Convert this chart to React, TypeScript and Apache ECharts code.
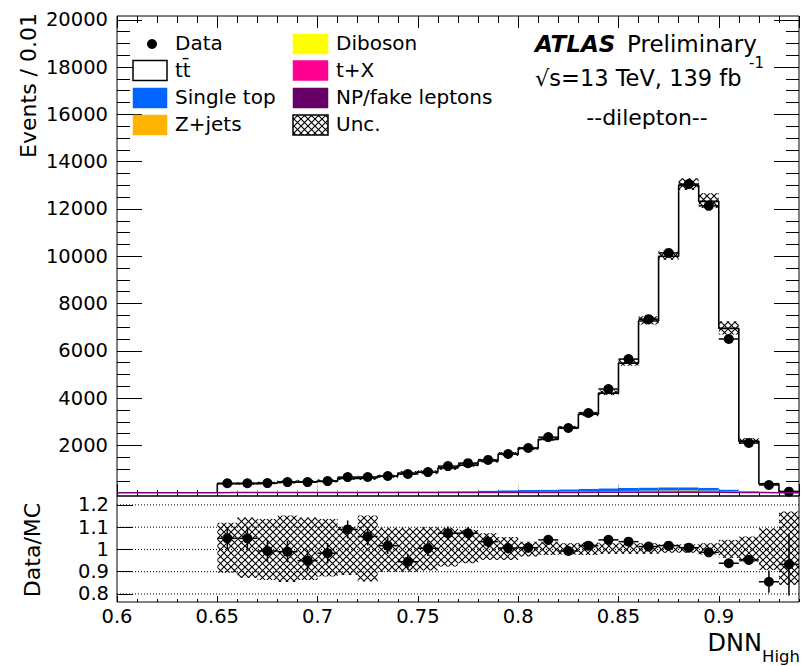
import React, { useEffect, useRef } from 'react';
import * as echarts from 'echarts';

// ---------------- data ----------------
const binCenters = [0.655, 0.665, 0.675, 0.685, 0.695, 0.705, 0.715, 0.725, 0.735, 0.745, 0.755, 0.765, 0.775, 0.785, 0.795, 0.805, 0.815, 0.825, 0.835, 0.845, 0.855, 0.865, 0.875, 0.885, 0.895, 0.905, 0.915, 0.925, 0.935];
const binWidth = 0.01;

const dataCounts = [400, 400, 405, 450, 450, 490, 660, 665, 705, 790, 870, 1125, 1250, 1385, 1635, 1890, 2350, 2735, 3370, 4385, 5650, 7340, 10140, 13050, 12130, 6500, 2100, 325, 45];
const dataErr = [20, 20, 20, 21, 21, 22, 26, 26, 27, 28, 30, 34, 35, 37, 40, 43, 48, 52, 58, 66, 75, 86, 100, 114, 110, 80, 46, 18, 7];

const ttbar = [356, 358, 383, 429, 446, 467, 571, 593, 652, 789, 819, 992, 1105, 1250, 1523, 1762, 2127, 2609, 3151, 4027, 5281, 7042, 9773, 12772, 12112, 6818, 2119, 367, 46];
const singleTop = [12, 12, 13, 14, 15, 16, 19, 20, 22, 26, 27, 32, 35, 60, 70, 78, 88, 95, 110, 120, 125, 130, 130, 128, 120, 80, 40, 8, 2];
const zJets = [3, 3, 3, 3, 3, 4, 4, 4, 5, 5, 5, 6, 6, 7, 8, 9, 10, 12, 14, 16, 20, 24, 25, 24, 20, 12, 5, 1, 0];
const diboson = [2, 2, 2, 2, 2, 2, 3, 3, 3, 3, 3, 4, 4, 4, 5, 5, 6, 7, 8, 9, 10, 12, 12, 12, 10, 6, 3, 1, 0];
const tX = [3, 3, 3, 3, 4, 4, 4, 5, 5, 6, 6, 7, 8, 9, 10, 11, 13, 15, 18, 22, 26, 32, 38, 42, 38, 22, 8, 2, 0];
const npFake = [4, 4, 4, 4, 4, 5, 5, 5, 6, 6, 6, 7, 7, 8, 9, 10, 11, 12, 14, 16, 18, 20, 22, 22, 20, 12, 5, 1, 0];

const ratio = [1.05, 1.05, 0.993, 0.99, 0.95, 0.983, 1.09, 1.058, 1.017, 0.945, 1.005, 1.073, 1.073, 1.035, 1.006, 1.008, 1.043, 0.993, 1.017, 1.043, 1.035, 1.013, 1.017, 1.008, 0.987, 0.938, 0.953, 0.855, 0.933];
const ratioErr = [0.05, 0.05, 0.05, 0.048, 0.048, 0.046, 0.04, 0.04, 0.038, 0.036, 0.034, 0.03, 0.028, 0.027, 0.025, 0.023, 0.021, 0.019, 0.017, 0.015, 0.013, 0.012, 0.01, 0.009, 0.009, 0.012, 0.021, 0.05, 0.14];
const uncHi = [1.12, 1.143, 1.137, 1.152, 1.143, 1.137, 1.102, 1.152, 1.097, 1.097, 1.1, 1.097, 1.088, 1.073, 1.056, 1.035, 1.035, 1.028, 1.032, 1.028, 1.028, 1.028, 1.023, 1.023, 1.028, 1.043, 1.058, 1.095, 1.17];
const uncLo = [0.895, 0.872, 0.863, 0.854, 0.863, 0.878, 0.885, 0.856, 0.9, 0.9, 0.905, 0.923, 0.938, 0.953, 0.953, 0.968, 0.975, 0.977, 0.975, 0.98, 0.98, 0.98, 0.985, 0.985, 0.977, 0.962, 0.945, 0.908, 0.84];

const xMin = 0.6;
const xMax = 0.94;
const yMin = -140;
const yMax = 20160;
const yMajorTicks = [0, 2000, 4000, 6000, 8000, 10000, 12000, 14000, 16000, 18000, 20000];
const yLabels = [2000, 4000, 6000, 8000, 10000, 12000, 14000, 16000, 18000, 20000];
const yMinorTicks = Array.from({ length: 41 }, (_, i) => i * 500);
const ratioMin = 0.764;
const ratioMax = 1.24;
const ratioTicks = [0.8, 0.9, 1, 1.1, 1.2];

const legendCol1 = ['Data', 'tt\u0304', 'Single top', 'Z+jets'];
const legendCol2 = ['Diboson', 't+X', 'NP/fake leptons', 'Unc.'];

const FONT = 'DejaVu Sans';

const hatchSvg = '<svg xmlns="http://www.w3.org/2000/svg" width="7" height="7"><path d="M0 0L7 7M7 0L0 7" stroke="#000" stroke-width="1.1" fill="none"/></svg>';
const hatch: any = {
  image: 'data:image/svg+xml;charset=utf-8,' + encodeURIComponent(hatchSvg),
  repeat: 'repeat',
  imageWidth: 7,
  imageHeight: 7,
};

const colors: Record<string, any> = {
  'NP/fake leptons': '#660066',
  't+X': '#ff0090',
  Diboson: '#ffff00',
  'Z+jets': '#ffb400',
  'Single top': '#0066ff',
  'tt\u0304': '#ffffff',
};

function buildOption() {
  const stackOrder = [
    { name: 'NP/fake leptons', values: npFake },
    { name: 't+X', values: tX },
    { name: 'Diboson', values: diboson },
    { name: 'Z+jets', values: zJets },
    { name: 'Single top', values: singleTop },
    { name: 'tt\u0304', values: ttbar },
  ];
  const half = binWidth / 2;
  let base = binCenters.map(() => 0);

  const rectRender = (fill: any) => (params: any, api: any) => {
    const p1 = api.coord([api.value(0), api.value(3)]);
    const p2 = api.coord([api.value(1), api.value(2)]);
    return {
      type: 'rect',
      shape: { x: p1[0], y: p1[1], width: p2[0] - p1[0], height: p2[1] - p1[1] },
      style: { fill },
    };
  };

  const stackSeries: any[] = stackOrder.map((comp) => {
    const rows = binCenters.map((c, i) => [c - half, c + half, base[i], base[i] + comp.values[i]]);
    base = base.map((b, i) => b + comp.values[i]);
    return {
      type: 'custom',
      name: comp.name,
      xAxisIndex: 0,
      yAxisIndex: 0,
      clip: true,
      silent: true,
      data: rows,
      renderItem: rectRender(colors[comp.name]),
    };
  });
  const mcTotal = base;

  const last = binCenters.length - 1;
  const ttOutline = [
    [binCenters[0] - half, 0],
    ...binCenters.map((c, i) => [c - half, mcTotal[i]]),
    [binCenters[last] + half, mcTotal[last]],
  ];
  const npOutline = [
    [xMin, 0],
    ...binCenters.map((c, i) => [c - half, npFake[i]]),
    [binCenters[last] + half, npFake[last]],
  ];

  const pointRender = (params: any, api: any) => {
    const x = api.value(0);
    const y = api.value(1);
    const e = api.value(2);
    const c = api.coord([x, y]);
    const l = api.coord([x - half, y]);
    const r = api.coord([x + half, y]);
    const t = api.coord([x, y + e]);
    const b = api.coord([x, y - e]);
    return {
      type: 'group',
      children: [
        { type: 'line', shape: { x1: l[0], y1: c[1], x2: r[0], y2: c[1] }, style: { stroke: '#000', lineWidth: 1.5 } },
        { type: 'line', shape: { x1: c[0], y1: t[1], x2: c[0], y2: b[1] }, style: { stroke: '#000', lineWidth: 1.5 } },
        { type: 'circle', shape: { cx: c[0], cy: c[1], r: 5 }, style: { fill: '#000' } },
      ],
    };
  };

  const gridLineRender = (params: any, api: any) => {
    const v = api.value(1);
    const p1 = api.coord([xMin, v]);
    const p2 = api.coord([xMax, v]);
    return {
      type: 'line',
      shape: { x1: p1[0], y1: p1[1], x2: p2[0], y2: p2[1] },
      style: { stroke: '#000', lineWidth: 1, lineDash: [1, 2] },
    };
  };

  const series: any[] = [
    ...stackSeries,
    {
      type: 'line', name: 'ttbar outline', xAxisIndex: 0, yAxisIndex: 0, data: ttOutline, step: 'end',
      symbol: 'none', showSymbol: false, silent: true, clip: true,
      lineStyle: { color: '#000', width: 1.6 },
    },
    {
      type: 'line', name: 'NP outline', xAxisIndex: 0, yAxisIndex: 0, data: npOutline, step: 'end',
      symbol: 'none', showSymbol: false, silent: true, clip: true,
      lineStyle: { color: '#800080', width: 1.5 },
    },
    {
      type: 'custom', name: 'Unc.', xAxisIndex: 0, yAxisIndex: 0, clip: true, silent: true,
      data: binCenters.map((c, i) => [c - half, c + half, mcTotal[i] * uncLo[i], mcTotal[i] * uncHi[i]]),
      renderItem: rectRender(hatch),
    },
    {
      type: 'custom', name: 'Data', xAxisIndex: 0, yAxisIndex: 0, clip: false, silent: true,
      data: binCenters.map((c, i) => [c, dataCounts[i], dataErr[i]]),
      renderItem: pointRender,
    },
    {
      type: 'custom', name: 'ratio grid', xAxisIndex: 4, yAxisIndex: 4, clip: true, silent: true,
      data: ratioTicks.map((v) => [xMin, v]),
      renderItem: gridLineRender,
    },
    {
      type: 'custom', name: 'Unc. ratio', xAxisIndex: 4, yAxisIndex: 4, clip: true, silent: true,
      data: binCenters.map((c, i) => [c - half, c + half, uncLo[i], uncHi[i]]),
      renderItem: rectRender(hatch),
    },
    {
      type: 'custom', name: 'Data/MC', xAxisIndex: 4, yAxisIndex: 4, clip: true, silent: true,
      data: binCenters.map((c, i) => [c, ratio[i], ratioErr[i]]),
      renderItem: pointRender,
    },
  ];

  const tickStyle = { color: '#000', width: 1 };
  const labelStyle = { color: '#000', fontFamily: FONT, fontSize: 19.5 };

  const xAx = (gridIndex: number, position: string, interval: number, len: number, labels = false) => ({
    type: 'value', gridIndex, position, min: xMin, max: xMax, interval,
    axisLine: { show: false, onZero: false },
    axisTick: { show: true, inside: true, length: len, lineStyle: tickStyle },
    axisLabel: labels
      ? { show: true, ...labelStyle, margin: 4, showMaxLabel: false, formatter: (v: number) => String(v) }
      : { show: false },
    splitLine: { show: false },
  });

  const yAx = (gridIndex: number, position: string, min: number, max: number, ticks: number[], len: number, labels?: number[], margin = 9) => ({
    type: 'value', gridIndex, position, min, max,
    axisLine: { show: false, onZero: false },
    axisTick: { show: true, inside: true, length: len, lineStyle: tickStyle, customValues: ticks },
    axisLabel: labels
      ? { show: true, ...labelStyle, margin, customValues: labels, formatter: (v: number) => String(v) }
      : { show: false },
    splitLine: { show: false },
  });

  const graphics: any[] = [];
  const rowY = [44, 70.5, 98, 125];
  const boxX = [133, 293];
  const textX = [175, 336];
  const boxW = 34;
  const boxH = 20;
  const txt = (x: number, y: number, text: string, size: number, extra: any = {}, rotation = 0) => ({
    type: 'text', x, y, rotation, z: 100,
    style: {
      text, fill: '#000', fontFamily: FONT, fontSize: size,
      align: extra.align || 'left', textAlign: extra.align || 'left',
      verticalAlign: 'middle', textVerticalAlign: 'middle',
      fontWeight: extra.fontWeight || 'normal', fontStyle: extra.fontStyle || 'normal',
    },
  });

  legendCol1.forEach((name, i) => {
    if (name === 'Data') {
      graphics.push({ type: 'circle', z: 100, shape: { cx: 152, cy: rowY[i], r: 5 }, style: { fill: '#000' } });
    } else {
      const isTT = name === 'tt\u0304';
      graphics.push({
        type: 'rect', z: 100,
        shape: { x: boxX[0], y: rowY[i] - boxH / 2, width: boxW, height: boxH },
        style: { fill: colors[name], stroke: isTT ? '#000' : colors[name], lineWidth: isTT ? 1.5 : 0.5 },
      });
    }
    graphics.push(txt(textX[0], rowY[i] - 1, name, 20));
  });
  legendCol2.forEach((name, i) => {
    const isUnc = name === 'Unc.';
    graphics.push({
      type: 'rect', z: 100,
      shape: { x: boxX[1], y: rowY[i] - boxH / 2, width: boxW + 1, height: boxH },
      style: { fill: isUnc ? hatch : colors[name], stroke: isUnc ? '#000' : colors[name], lineWidth: isUnc ? 1.5 : 0.5 },
    });
    graphics.push(txt(textX[1], rowY[i] - 1, name, 20));
  });

  graphics.push(txt(535, 44, 'ATLAS', 23, { fontWeight: 'bold', fontStyle: 'italic' }));
  graphics.push(txt(627, 44, 'Preliminary', 23));
  graphics.push(txt(535, 78, '\u221As=13 TeV, 139 fb', 22.5));
  graphics.push(txt(749, 63, '-1', 15));
  graphics.push(txt(647, 117, '--dilepton--', 22, { align: 'center' }));
  graphics.push(txt(28, 13, 'Events / 0.01', 22, { align: 'right' }, Math.PI / 2));
  graphics.push(txt(32, 550, 'Data/MC', 22, { align: 'center' }, Math.PI / 2));
  graphics.push(txt(762, 643, 'DNN', 24, { align: 'right' }));
  graphics.push(txt(800, 656, 'High', 16.5, { align: 'right' }));

  return {
    animation: false,
    backgroundColor: '#fff',
    textStyle: { fontFamily: FONT },
    grid: [
      { left: 117, top: 16, width: 682, height: 480, show: true, borderColor: '#000', borderWidth: 1, backgroundColor: 'transparent' },
      { left: 117, top: 16, width: 682, height: 480, show: false },
      { left: 117, top: 496, width: 682, height: 106, show: true, borderColor: '#000', borderWidth: 1, backgroundColor: 'transparent' },
      { left: 117, top: 496, width: 682, height: 106, show: false },
    ],
    xAxis: [
      xAx(0, 'bottom', 0.05, 12),
      xAx(0, 'top', 0.05, 12),
      xAx(1, 'bottom', 0.01, 6),
      xAx(1, 'top', 0.01, 7),
      xAx(2, 'bottom', 0.05, 6, true),
      xAx(3, 'bottom', 0.01, 3),
    ],
    yAxis: [
      yAx(0, 'left', yMin, yMax, yMajorTicks, 25, yLabels, 9),
      yAx(0, 'right', yMin, yMax, yMajorTicks, 25),
      yAx(1, 'left', yMin, yMax, yMinorTicks, 13),
      yAx(1, 'right', yMin, yMax, yMinorTicks, 13),
      yAx(2, 'left', ratioMin, ratioMax, ratioTicks, 16, ratioTicks, 8),
      { type: 'value', gridIndex: 3, min: ratioMin, max: ratioMax, show: false },
    ],
    series,
    graphic: { elements: graphics },
  };
}

export default function App() {
  const ref = useRef<HTMLDivElement>(null);
  useEffect(() => {
    document.body.style.margin = '0';
    const chart = echarts.init(ref.current as HTMLDivElement, undefined, { renderer: 'svg', width: 804, height: 666 });
    chart.setOption(buildOption() as any);
    return () => chart.dispose();
  }, []);
  return <div ref={ref} style={{ width: 804, height: 666 }} />;
}
